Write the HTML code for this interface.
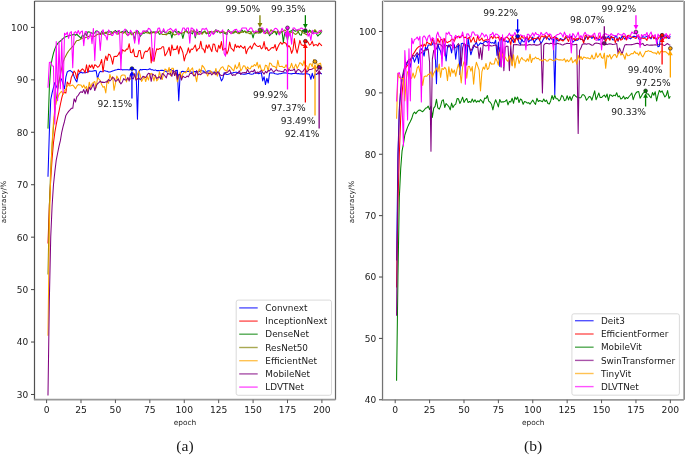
<!DOCTYPE html>
<html><head><meta charset="utf-8"><title>accuracy curves</title>
<style>html,body{margin:0;padding:0;background:#fff;width:685px;height:455px;overflow:hidden}svg{display:block}</style>
</head><body>
<svg width="685" height="455" viewBox="0 0 685 455" font-family="'DejaVu Sans', 'Liberation Sans', sans-serif" fill="#1a1a1a"><defs><clipPath id="aclip"><rect x="34.5" y="1.5" width="301.0" height="398.2"/></clipPath><clipPath id="bclip"><rect x="382.5" y="1.5" width="301.4" height="398.3"/></clipPath></defs><rect width="685" height="455" fill="#fff"/><g clip-path="url(#aclip)"><polyline points="47.98,176.85 49.35,132.28 50.73,99.77 52.11,92.95 53.48,87.71 54.86,82.46 56.24,86.13 57.61,88.75 58.99,80.89 60.37,77.74 61.74,79.84 63.12,84.04 64.49,88.75 65.87,77.22 67.25,71.97 68.62,70.93 70,70.4 71.38,71.45 72.75,72.5 74.13,76.69 75.51,79.84 76.88,81.94 78.26,74.6 79.64,73.02 81.01,71.97 82.39,73.03 83.77,72.66 85.14,72.8 86.52,72.52 87.9,71.65 89.27,71.09 90.65,71.27 92.02,71.35 93.4,70.9 94.78,70.63 96.15,70.68 97.53,78.79 98.91,73.55 100.28,71.34 101.66,71.69 103.04,71.42 104.41,70.62 105.79,71.11 107.17,71.34 108.54,71.94 109.92,72 111.3,71.6 112.67,71 114.05,70.54 115.43,69.97 116.8,69.76 118.18,69.16 119.55,69.41 120.93,69.26 122.31,69.87 123.68,69.69 125.06,69.71 126.44,69.76 127.81,69.75 129.19,69.96 130.57,69.09 131.94,68.57 133.32,69.35 134.7,69.61 136.07,69.88 137.45,119.17 138.83,71.97 140.2,69.41 141.58,69.87 142.96,69.49 144.33,69.5 145.71,69.43 147.08,69.65 148.46,69.46 149.84,68.8 151.21,69.65 152.59,69.84 153.97,70.38 155.34,69.89 156.72,70.63 158.1,70.4 159.47,70.87 160.85,70.35 162.23,70.39 163.6,70.57 164.98,70.93 166.36,71.93 167.73,71.32 169.11,70.71 170.49,69.55 171.86,70.34 173.24,71.15 174.61,71.68 175.99,70.51 177.37,70.2 178.74,100.82 180.12,74.6 181.5,71.51 182.87,71.37 184.25,71.8 185.63,71.67 187,71.51 188.38,71.29 189.76,71.54 191.13,72.14 192.51,72.3 193.89,71.8 195.26,71.42 196.64,71.79 198.02,71.77 199.39,71.53 200.77,70.26 202.14,70.74 203.52,71.12 204.9,72.44 206.27,72 207.65,70.92 209.03,70.71 210.4,71.45 211.78,72.19 213.16,72.21 214.53,72.09 215.91,72.46 217.29,72.11 218.66,71.63 220.04,76.69 221.42,80.89 222.79,78.79 224.17,72.72 225.54,74.1 226.92,74.47 228.3,74.31 229.67,73.75 231.05,73.01 232.43,73.11 233.8,72.42 235.18,72.34 236.56,72.17 237.93,72.69 239.31,73.25 240.69,73.89 242.06,74.03 243.44,74.19 244.82,74.12 246.19,73.98 247.57,73.49 248.95,73.41 250.32,74.08 251.7,74.2 253.08,74 254.45,72.91 255.83,72.68 257.2,73 258.58,73.66 259.96,73.14 261.33,72.64 262.71,80.89 264.09,76.69 265.46,84.56 266.84,78.27 268.22,82.99 269.59,72.9 270.97,72.84 272.35,72.94 273.72,73.08 275.1,73.83 276.48,73.97 277.85,74.3 279.23,73.72 280.61,73.83 281.98,73.34 283.36,73.09 284.73,72.81 286.11,72.93 287.49,73.19 288.86,73.47 290.24,73.65 291.62,73.87 292.99,73.57 294.37,73.51 295.75,73.12 297.12,73.75 298.5,73.43 299.88,73.92 301.25,73.71 302.63,74.11 304.01,74.04 305.38,73.67 306.76,73.81 308.14,74 309.51,74.42 310.89,79.32 312.26,73.34 313.64,78.27 315.02,73.93 316.39,74.52 317.77,73.45 319.15,74.01 320.52,73.27 321.9,73.93" fill="none" stroke="#0000ff" stroke-width="1.05" stroke-linejoin="round"/><polyline points="47.98,243.45 49.35,205.7 50.73,179.48 52.11,158.5 53.48,142.77 54.86,132.28 56.24,124.41 57.61,117.6 58.99,111.3 60.37,104.49 61.74,98.19 63.12,92.95 64.49,92.43 65.87,92.95 67.25,81.94 68.62,84.04 70,84.04 71.38,77.22 72.75,74.6 74.13,70.93 75.51,73.02 76.88,78.79 78.26,69.88 79.64,71.97 81.01,70.4 82.39,68.83 83.77,70.11 85.14,72.73 86.52,64.77 87.9,72.62 89.27,65.11 90.65,67.46 92.02,64.81 93.4,68.74 94.78,64.79 96.15,65.53 97.53,67.25 98.91,66.43 100.28,63.9 101.66,59.51 103.04,71.97 104.41,61.69 105.79,56.08 107.17,60.57 108.54,54.11 109.92,54.77 111.3,58.11 112.67,64.23 114.05,56.42 115.43,56.39 116.8,56.45 118.18,54.75 119.55,52.03 120.93,58.49 122.31,49.64 123.68,50.77 125.06,51.28 126.44,49.13 127.81,49.18 129.19,43.67 130.57,52.57 131.94,52.8 133.32,49.11 134.7,56.33 136.07,56.62 137.45,56.61 138.83,50.52 140.2,50.59 141.58,58.61 142.96,58.04 144.33,52.53 145.71,51.06 147.08,51.69 148.46,49.71 149.84,47.25 151.21,63.06 152.59,48.42 153.97,61.49 155.34,54.08 156.72,48.81 158.1,49.46 159.47,48.58 160.85,48.69 162.23,46.69 163.6,46.71 164.98,55.84 166.36,53.77 167.73,50.89 169.11,47.29 170.49,55.69 171.86,44.93 173.24,49.99 174.61,49.29 175.99,49.57 177.37,45.72 178.74,53.86 180.12,46.29 181.5,48.75 182.87,52.45 184.25,60.96 185.63,55.39 187,53.15 188.38,47.84 189.76,52.85 191.13,49.06 192.51,49.54 193.89,47.54 195.26,44.96 196.64,51.1 198.02,48.97 199.39,48.13 200.77,41.19 202.14,48.7 203.52,49.05 204.9,52.74 206.27,44.96 207.65,48.36 209.03,44.62 210.4,48.43 211.78,51.59 213.16,43.95 214.53,44.21 215.91,50.46 217.29,52.02 218.66,45.27 220.04,48.47 221.42,41.59 222.79,50.13 224.17,49.08 225.54,48.24 226.92,54.05 228.3,50.56 229.67,42.04 231.05,48.03 232.43,49.3 233.8,51.24 235.18,44.31 236.56,47.51 237.93,45.81 239.31,47.6 240.69,45.64 242.06,47.05 243.44,48.34 244.82,46.2 246.19,53.78 247.57,49.6 248.95,47.71 250.32,45.97 251.7,49 253.08,45.6 254.45,42.98 255.83,45.12 257.2,46.18 258.58,46.56 259.96,45.66 261.33,48.87 262.71,47.59 264.09,41.6 265.46,49.19 266.84,47.42 268.22,50.59 269.59,50.04 270.97,48.31 272.35,47.41 273.72,47.97 275.1,44.56 276.48,50.6 277.85,47.2 279.23,44.19 280.61,42.29 281.98,44.3 283.36,42.64 284.73,42.63 286.11,43.51 287.49,47.46 288.86,45.58 290.24,47.76 291.62,53.36 292.99,49.72 294.37,38.59 295.75,48.17 297.12,53.12 298.5,46.83 299.88,40.39 301.25,44.66 302.63,45.23 304.01,45.82 305.38,41.19 306.76,41.26 308.14,42.21 309.51,45.13 310.89,44.1 312.26,41.33 313.64,45.95 315.02,44.69 316.39,44.65 317.77,45.98 319.15,43.08 320.52,44.33 321.9,45.95" fill="none" stroke="#ff0000" stroke-width="1.05" stroke-linejoin="round"/><polyline points="47.98,128.61 49.35,87.71 50.73,66.73 52.11,58.86 53.48,53.1 54.86,48.9 56.24,45.75 57.61,43.66 58.99,42.08 60.37,41.03 61.74,39.99 63.12,38.41 64.49,37.36 65.87,36.84 67.25,36.31 68.62,35.79 70,35.27 71.38,35.27 72.75,34.74 74.13,34.22 75.51,35.27 76.88,34.22 78.26,35.79 79.64,36.84 81.01,38.41 82.39,35.33 83.77,36.39 85.14,33.01 86.52,35.45 87.9,31.85 89.27,32.06 90.65,32.45 92.02,33.18 93.4,33.33 94.78,32.92 96.15,30.9 97.53,31.1 98.91,32.45 100.28,34.52 101.66,31.34 103.04,34.37 104.41,32.9 105.79,33.15 107.17,31.76 108.54,32.14 109.92,31.69 111.3,31.69 112.67,33.25 114.05,31.55 115.43,30.51 116.8,32.03 118.18,31.24 119.55,32.85 120.93,32.37 122.31,31.35 123.68,32.28 125.06,31.85 126.44,30.14 127.81,32.3 129.19,32.89 130.57,32.74 131.94,33.07 133.32,33.37 134.7,40.51 136.07,32.06 137.45,30.54 138.83,32.29 140.2,36.4 141.58,34.43 142.96,33.25 144.33,33.31 145.71,32.43 147.08,30.6 148.46,32.51 149.84,33.37 151.21,31.41 152.59,32.76 153.97,31.75 155.34,32.62 156.72,31.97 158.1,31.92 159.47,34.34 160.85,33.82 162.23,31.44 163.6,30.93 164.98,32.47 166.36,33.02 167.73,33.26 169.11,33.77 170.49,32.45 171.86,37.89 173.24,31.83 174.61,30.51 175.99,32.51 177.37,32 178.74,31.37 180.12,33.62 181.5,32.61 182.87,38.41 184.25,32.84 185.63,30 187,31.32 188.38,33.54 189.76,32.41 191.13,32.82 192.51,33.85 193.89,29.69 195.26,37.89 196.64,31.52 198.02,32.83 199.39,31.44 200.77,31.85 202.14,32.51 203.52,32.04 204.9,30.94 206.27,33.86 207.65,32.97 209.03,33.7 210.4,31.43 211.78,32.44 213.16,33.56 214.53,33.02 215.91,29.65 217.29,32.3 218.66,30.84 220.04,33.01 221.42,32.33 222.79,32.77 224.17,33.03 225.54,33.79 226.92,34.51 228.3,29.5 229.67,32.47 231.05,32.07 232.43,32.01 233.8,33.18 235.18,30.75 236.56,32.29 237.93,31.46 239.31,33.39 240.69,31.72 242.06,30.11 243.44,32.13 244.82,30.88 246.19,32.93 247.57,30.74 248.95,31.57 250.32,31.86 251.7,33.15 253.08,37.89 254.45,32.25 255.83,32.61 257.2,31.77 258.58,31.3 259.96,33.22 261.33,32.02 262.71,29.5 264.09,30.87 265.46,31.92 266.84,29.5 268.22,32.26 269.59,35.73 270.97,33.98 272.35,33.49 273.72,31.57 275.1,31.33 276.48,34.77 277.85,30.82 279.23,33.93 280.61,32.41 281.98,31.3 283.36,42.08 284.73,32.66 286.11,32.69 287.49,40.51 288.86,32.49 290.24,31.17 291.62,30.72 292.99,29.5 294.37,30.75 295.75,31.29 297.12,29.93 298.5,32.22 299.88,34.79 301.25,35.27 302.63,30.34 304.01,31.26 305.38,30.81 306.76,32.3 308.14,32.28 309.51,30.14 310.89,31.23 312.26,33.21 313.64,32.86 315.02,30.12 316.39,33.68 317.77,36.08 319.15,34.53 320.52,33.85 321.9,31.09" fill="none" stroke="#008000" stroke-width="1.05" stroke-linejoin="round"/><polyline points="47.98,274.39 49.35,205.7 50.73,168.99 52.11,145.39 53.48,127.04 54.86,111.3 56.24,99.24 57.61,90.33 58.99,80.89 60.37,74.6 61.74,67.78 63.12,62.01 64.49,58.34 65.87,55.72 67.25,53.1 68.62,51 70,49.42 71.38,47.85 72.75,46.28 74.13,44.71 75.51,42.2 76.88,40.52 78.26,40.45 79.64,39.77 81.01,38.91 82.39,38.38 83.77,37.85 85.14,37.82 86.52,37.22 87.9,36.39 89.27,36.4 90.65,35.62 92.02,36.51 93.4,36.52 94.78,36.45 96.15,35.24 97.53,34.31 98.91,34.04 100.28,34.57 101.66,33.71 103.04,33.08 104.41,33.18 105.79,32.12 107.17,34.06 108.54,34.46 109.92,34.45 111.3,34.34 112.67,32.25 114.05,31.88 115.43,32.28 116.8,33.78 118.18,34.12 119.55,32.65 120.93,32.14 122.31,32.93 123.68,33.12 125.06,32.24 126.44,34.27 127.81,35.45 129.19,33.52 130.57,33.67 131.94,34.98 133.32,33.35 134.7,32.17 136.07,32.82 137.45,32.92 138.83,33.27 140.2,33.59 141.58,33.39 142.96,32.74 144.33,31.3 145.71,31.92 147.08,33.09 148.46,32.84 149.84,33.77 151.21,33.67 152.59,32.02 153.97,32.68 155.34,32.94 156.72,32.89 158.1,32.25 159.47,30.74 160.85,32.04 162.23,34.54 163.6,34.55 164.98,34.3 166.36,34.98 167.73,33.72 169.11,31.51 170.49,31.33 171.86,32.71 173.24,34.25 174.61,34.92 175.99,34.52 177.37,33.48 178.74,32.78 180.12,33.21 181.5,32.86 182.87,33 184.25,32.22 185.63,31.34 187,32.14 188.38,32.76 189.76,32.09 191.13,30.72 192.51,31.14 193.89,31.07 195.26,31.59 196.64,33.46 198.02,34.32 199.39,33.06 200.77,32.92 202.14,34.3 203.52,32.33 204.9,31.87 206.27,33.25 207.65,32.24 209.03,31.71 210.4,31.81 211.78,31.91 213.16,32.16 214.53,30.96 215.91,31.3 217.29,30.91 218.66,31.2 220.04,32.66 221.42,32.14 222.79,31.46 224.17,31.82 225.54,32.86 226.92,32.46 228.3,30.88 229.67,31.35 231.05,33.53 232.43,33.31 233.8,31.71 235.18,32.06 236.56,32.37 237.93,33.39 239.31,33.7 240.69,32.37 242.06,32.11 243.44,31.96 244.82,31.37 246.19,32.33 247.57,32.66 248.95,33.19 250.32,34.03 251.7,31.88 253.08,30.91 254.45,33.03 255.83,33.27 257.2,32.43 258.58,33.26 259.96,30.02 261.33,31.93 262.71,31.38 264.09,32.58 265.46,33.68 266.84,32.43 268.22,33.53 269.59,32.48 270.97,29.76 272.35,30.94 273.72,32.35 275.1,32.06 276.48,31.97 277.85,32.48 279.23,32.02 280.61,32.31 281.98,31.73 283.36,30.88 284.73,29.99 286.11,31.18 287.49,33.51 288.86,33.18 290.24,33.2 291.62,31.9 292.99,32.32 294.37,33.75 295.75,34.41 297.12,33.28 298.5,30.89 299.88,29.99 301.25,30.91 302.63,32.77 304.01,33.25 305.38,33.98 306.76,34.85 308.14,32.22 309.51,31.36 310.89,32.21 312.26,31.93 313.64,30.91 315.02,29.76 316.39,31.32 317.77,32.78 319.15,32.83 320.52,31.73 321.9,29.91" fill="none" stroke="#808000" stroke-width="1.05" stroke-linejoin="round"/><polyline points="47.98,335.75 49.35,226.67 50.73,174.23 52.11,142.77 53.48,121.79 54.86,108.68 56.24,101.86 57.61,98.19 58.99,94.52 60.37,92.43 61.74,91.38 63.12,94.52 64.49,90.85 65.87,88.75 67.25,86.13 68.62,84.56 70,86.13 71.38,85.61 72.75,85.08 74.13,86.66 75.51,88.75 76.88,86.13 78.26,84.56 79.64,85.08 81.01,85.08 82.39,87.5 83.77,85.05 85.14,88.5 86.52,86.35 87.9,91.37 89.27,82.17 90.65,87.68 92.02,83.54 93.4,82.4 94.78,81.54 96.15,88.02 97.53,77.7 98.91,79.03 100.28,80.62 101.66,84.59 103.04,87.23 104.41,86.59 105.79,92.95 107.17,80.21 108.54,83.36 109.92,74.41 111.3,78.93 112.67,76.53 114.05,90.33 115.43,83.42 116.8,75.91 118.18,78.43 119.55,82.51 120.93,76.23 122.31,75.01 123.68,74.99 125.06,75.29 126.44,81.94 127.81,78.13 129.19,79.31 130.57,79.12 131.94,76.16 133.32,72.85 134.7,74.1 136.07,79.78 137.45,74.29 138.83,70.84 140.2,74.99 141.58,81.5 142.96,79.07 144.33,76.54 145.71,81.53 147.08,76.04 148.46,80.07 149.84,74.61 151.21,73.3 152.59,75.63 153.97,80.96 155.34,74.72 156.72,80.89 158.1,79.2 159.47,71.67 160.85,77.36 162.23,79.52 163.6,73.46 164.98,68.97 166.36,69.86 167.73,71.62 169.11,67.4 170.49,75.69 171.86,68.21 173.24,68.21 174.61,75.54 175.99,73.54 177.37,81.94 178.74,77.23 180.12,72.14 181.5,77.74 182.87,73.71 184.25,72.37 185.63,72.88 187,70.64 188.38,67.58 189.76,72.28 191.13,69.51 192.51,67.92 193.89,74.59 195.26,75.3 196.64,81.65 198.02,72.19 199.39,68.94 200.77,72.82 202.14,65.3 203.52,66.87 204.9,69.33 206.27,72.63 207.65,76.12 209.03,72.5 210.4,70.91 211.78,72.25 213.16,73.45 214.53,73.98 215.91,68.42 217.29,76.15 218.66,71.89 220.04,69.54 221.42,67.36 222.79,66.74 224.17,69.41 225.54,70.53 226.92,71.24 228.3,65.36 229.67,66.42 231.05,67.62 232.43,69.63 233.8,70.85 235.18,64.81 236.56,68.73 237.93,67.19 239.31,62.45 240.69,71.04 242.06,68.91 243.44,65.83 244.82,65.98 246.19,69.38 247.57,66.9 248.95,68.7 250.32,68.84 251.7,66.01 253.08,66.58 254.45,64.5 255.83,65.94 257.2,62.27 258.58,68.13 259.96,64.82 261.33,69.82 262.71,70.39 264.09,70.34 265.46,65.16 266.84,65.76 268.22,71.08 269.59,62.96 270.97,63.59 272.35,66.09 273.72,66.38 275.1,66.72 276.48,68.56 277.85,60.36 279.23,66.49 280.61,66.48 281.98,66.22 283.36,67.46 284.73,67.5 286.11,64.7 287.49,68.35 288.86,68.15 290.24,67.7 291.62,63.28 292.99,68.22 294.37,67.39 295.75,64.16 297.12,68.46 298.5,65.86 299.88,62.65 301.25,63.43 302.63,65.66 304.01,60.66 305.38,65.79 306.76,65.86 308.14,70.1 309.51,64.12 310.89,63.73 312.26,66.69 313.64,59.49 315.02,61.54 316.39,61.62 317.77,66.95 319.15,63.52 320.52,63.15 321.9,69.78" fill="none" stroke="#ffa500" stroke-width="1.05" stroke-linejoin="round"/><polyline points="47.98,395.53 49.35,300.09 50.73,237.16 52.11,205.7 53.48,184.72 54.86,171.61 56.24,160.07 57.61,153.26 58.99,146.44 60.37,140.67 61.74,132.28 63.12,126.33 64.49,121.49 65.87,115.42 67.25,113.25 68.62,111.36 70,109.95 71.38,108.32 72.75,108.3 74.13,98.74 75.51,102.07 76.88,96.55 78.26,95.32 79.64,92.9 81.01,91.67 82.39,92.53 83.77,89.56 85.14,93.77 86.52,89.04 87.9,93.88 89.27,86.98 90.65,89.68 92.02,86.97 93.4,83.73 94.78,90.57 96.15,86.05 97.53,83.75 98.91,82.63 100.28,81.23 101.66,82.37 103.04,82.13 104.41,82.57 105.79,81.86 107.17,81.88 108.54,79.57 109.92,80.94 111.3,79.49 112.67,77.4 114.05,78.24 115.43,81.32 116.8,80.72 118.18,78.87 119.55,81.62 120.93,83.92 122.31,82.01 123.68,78.57 125.06,79.95 126.44,80.06 127.81,77.52 129.19,81.06 130.57,73.87 131.94,78.34 133.32,78.9 134.7,73.85 136.07,80.31 137.45,78.97 138.83,78.01 140.2,79.74 141.58,78.34 142.96,76.31 144.33,77.08 145.71,77.44 147.08,75.17 148.46,73.18 149.84,73.76 151.21,81.34 152.59,73.97 153.97,75.12 155.34,75.8 156.72,78.62 158.1,77.4 159.47,76.8 160.85,79.18 162.23,73.57 163.6,74.2 164.98,75.99 166.36,77.86 167.73,72.95 169.11,74.33 170.49,73.34 171.86,76.36 173.24,70.35 174.61,75.57 175.99,71.08 177.37,79.29 178.74,74.34 180.12,74.72 181.5,80.08 182.87,76.05 184.25,77.17 185.63,77.49 187,76.07 188.38,76.89 189.76,73.7 191.13,73.36 192.51,73.72 193.89,75.97 195.26,75.19 196.64,70.6 198.02,74.79 199.39,74.05 200.77,74.74 202.14,73.22 203.52,72.7 204.9,72.77 206.27,73.2 207.65,72.77 209.03,73.93 210.4,72.79 211.78,74.84 213.16,73.36 214.53,72.31 215.91,74.72 217.29,72.32 218.66,72.87 220.04,74.84 221.42,75.41 222.79,75.29 224.17,74.45 225.54,72.6 226.92,72.65 228.3,71.31 229.67,69.89 231.05,73.44 232.43,75.43 233.8,74.66 235.18,75.32 236.56,73.51 237.93,73.26 239.31,70.83 240.69,74.42 242.06,72.72 243.44,72.68 244.82,72.46 246.19,72.99 247.57,69.42 248.95,72.38 250.32,72.03 251.7,71.1 253.08,71.69 254.45,69.6 255.83,73.45 257.2,72.08 258.58,72.44 259.96,71.82 261.33,70.49 262.71,72.41 264.09,74.13 265.46,71.42 266.84,72.83 268.22,70.6 269.59,71.05 270.97,68.55 272.35,70.54 273.72,72.28 275.1,70.66 276.48,69.69 277.85,70.93 279.23,71.02 280.61,71.28 281.98,71.41 283.36,72.03 284.73,69.19 286.11,70.2 287.49,72.54 288.86,69.2 290.24,70.53 291.62,70.21 292.99,70.25 294.37,68.84 295.75,73.27 297.12,70.32 298.5,69.51 299.88,70.36 301.25,72.3 302.63,71.75 304.01,69.75 305.38,68.11 306.76,72.46 308.14,70.64 309.51,69.4 310.89,69.44 312.26,68.98 313.64,68.12 315.02,68.57 316.39,71.46 317.77,69.87 319.15,67.2 320.52,69.38 321.9,67.33" fill="none" stroke="#800080" stroke-width="1.05" stroke-linejoin="round"/><polyline points="47.98,87.71 49.35,62.53 50.73,62.01 52.11,65.68 53.48,66.21 54.86,123.89 56.24,41.56 57.61,100.82 58.99,42.08 60.37,88.75 61.74,38.94 63.12,92.95 64.49,33.17 65.87,34.74 67.25,32.12 68.62,38.41 70,32.64 71.38,31.6 72.75,67.78 74.13,32.64 75.51,31.6 76.88,33.69 78.26,30.55 79.64,34.15 81.01,31.83 82.39,31.08 83.77,45.75 85.14,31.8 86.52,31.59 87.9,39.2 89.27,37.53 90.65,32.63 92.02,43.66 93.4,28.41 94.78,60.44 96.15,31.7 97.53,31.65 98.91,31.82 100.28,50.47 101.66,32.58 103.04,29.74 104.41,35.06 105.79,35.99 107.17,39.99 108.54,29.93 109.92,31.74 111.3,35.24 112.67,35.48 114.05,32 115.43,31.82 116.8,34.25 118.18,30.54 119.55,30.58 120.93,69.88 122.31,33.07 123.68,31.04 125.06,28.94 126.44,30.94 127.81,35.76 129.19,34.36 130.57,30.25 131.94,32.77 133.32,34.86 134.7,43.13 136.07,30.21 137.45,30.62 138.83,44.18 140.2,33.16 141.58,34.4 142.96,30.77 144.33,31.12 145.71,30.98 147.08,31.35 148.46,28.24 149.84,29.02 151.21,31.42 152.59,60.96 153.97,56.24 155.34,31.5 156.72,32.49 158.1,28.24 159.47,27.92 160.85,33.43 162.23,32.4 163.6,28.63 164.98,31.95 166.36,32.28 167.73,30.02 169.11,29.49 170.49,28.29 171.86,29.83 173.24,31.9 174.61,30.19 175.99,28.85 177.37,33.3 178.74,34.89 180.12,33.02 181.5,32.49 182.87,27.92 184.25,27.92 185.63,30.92 187,27.92 188.38,27.92 189.76,43.13 191.13,27.92 192.51,28.31 193.89,30.37 195.26,36.31 196.64,29.04 198.02,31.57 199.39,34.5 200.77,33.44 202.14,28.68 203.52,28.89 204.9,29.35 206.27,28.16 207.65,30.86 209.03,36.51 210.4,35.52 211.78,31.15 213.16,34.52 214.53,33.05 215.91,30.13 217.29,30.39 218.66,31.46 220.04,31.77 221.42,31.53 222.79,29.92 224.17,53.62 225.54,56.24 226.92,33.22 228.3,30.49 229.67,31.26 231.05,33.88 232.43,31.54 233.8,30.39 235.18,29.42 236.56,29.28 237.93,32.15 239.31,31.01 240.69,30.79 242.06,27.92 243.44,27.92 244.82,28.06 246.19,27.92 247.57,31.1 248.95,29.93 250.32,27.92 251.7,27.92 253.08,31.66 254.45,32.49 255.83,30.76 257.2,31.96 258.58,31.45 259.96,31.11 261.33,27.92 262.71,27.92 264.09,33.65 265.46,32.04 266.84,28.45 268.22,30.52 269.59,34.06 270.97,33.56 272.35,31.1 273.72,30.07 275.1,28.29 276.48,28.53 277.85,30.06 279.23,34.98 280.61,32.49 281.98,28.32 283.36,30.73 284.73,32.53 286.11,36.84 287.49,27.82 288.86,36.33 290.24,33.19 291.62,44.18 292.99,27.92 294.37,27.92 295.75,29.76 297.12,30.4 298.5,29.3 299.88,28.91 301.25,27.92 302.63,28.51 304.01,30.53 305.38,28.34 306.76,30.06 308.14,36.32 309.51,33.33 310.89,40.51 312.26,30.3 313.64,33.95 315.02,32.63 316.39,33.55 317.77,33.21 319.15,31.05 320.52,30.2 321.9,32.18" fill="none" stroke="#ff00ff" stroke-width="1.05" stroke-linejoin="round"/></g><line x1="131.94" y1="98.5" x2="131.94" y2="74.37" stroke="#0000ff" stroke-width="1.3"/><polygon points="129.54,75.47 134.34,75.47 131.94,70.87" fill="#0000ff"/><circle cx="131.94" cy="68.57" r="1.85" fill="#0000ff" stroke="#222" stroke-width="0.7"/><text x="132.24" y="107" text-anchor="end" font-size="9.1">92.15%</text><line x1="259.96" y1="15.2" x2="259.96" y2="24.22" stroke="#808000" stroke-width="1.3"/><polygon points="257.56,23.12 262.36,23.12 259.96,27.72" fill="#808000"/><circle cx="259.96" cy="30.02" r="1.85" fill="#808000" stroke="#222" stroke-width="0.7"/><text x="260.26" y="12" text-anchor="end" font-size="9.1">99.50%</text><line x1="305.38" y1="15.2" x2="305.38" y2="25.01" stroke="#008000" stroke-width="1.3"/><polygon points="302.98,23.91 307.78,23.91 305.38,28.51" fill="#008000"/><circle cx="305.38" cy="30.81" r="1.85" fill="#008000" stroke="#222" stroke-width="0.7"/><text x="305.68" y="12" text-anchor="end" font-size="9.1">99.35%</text><line x1="287.49" y1="89.5" x2="287.49" y2="33.62" stroke="#ff00ff" stroke-width="1.3"/><polygon points="285.09,34.72 289.89,34.72 287.49,30.12" fill="#ff00ff"/><circle cx="287.49" cy="27.82" r="1.85" fill="#ff00ff" stroke="#222" stroke-width="0.7"/><text x="287.79" y="98" text-anchor="end" font-size="9.1">99.92%</text><line x1="305.38" y1="102.5" x2="305.38" y2="46.99" stroke="#ff0000" stroke-width="1.3"/><polygon points="302.98,48.09 307.78,48.09 305.38,43.49" fill="#ff0000"/><circle cx="305.38" cy="41.19" r="1.85" fill="#ff0000" stroke="#222" stroke-width="0.7"/><text x="305.68" y="111" text-anchor="end" font-size="9.1">97.37%</text><line x1="315.02" y1="115.5" x2="315.02" y2="67.34" stroke="#ffa500" stroke-width="1.3"/><polygon points="312.62,68.44 317.42,68.44 315.02,63.84" fill="#ffa500"/><circle cx="315.02" cy="61.54" r="1.85" fill="#ffa500" stroke="#222" stroke-width="0.7"/><text x="315.32" y="124" text-anchor="end" font-size="9.1">93.49%</text><line x1="319.15" y1="128.5" x2="319.15" y2="73" stroke="#800080" stroke-width="1.3"/><polygon points="316.75,74.1 321.55,74.1 319.15,69.5" fill="#800080"/><circle cx="319.15" cy="67.2" r="1.85" fill="#800080" stroke="#222" stroke-width="0.7"/><text x="319.45" y="137" text-anchor="end" font-size="9.1">92.41%</text><line x1="34.5" y1="0.5" x2="335.5" y2="0.5" stroke="#c6c6c6" stroke-width="1"/><line x1="34.5" y1="1.5" x2="335.5" y2="1.5" stroke="#8a8a8a" stroke-width="1"/><line x1="34.5" y1="1" x2="34.5" y2="399.7" stroke="#505050" stroke-width="1.2"/><line x1="335.5" y1="1" x2="335.5" y2="399.7" stroke="#666" stroke-width="1.2"/><line x1="336.6" y1="1" x2="336.6" y2="399.7" stroke="#eeeeee" stroke-width="1"/><line x1="33.9" y1="399.7" x2="335.5" y2="399.7" stroke="#999" stroke-width="1.8"/><line x1="31" y1="394.48" x2="34.5" y2="394.48" stroke="#444" stroke-width="1.0"/><text x="28.2" y="397.93" text-anchor="end" font-size="9.0">30</text><line x1="31" y1="342.04" x2="34.5" y2="342.04" stroke="#444" stroke-width="1.0"/><text x="28.2" y="345.49" text-anchor="end" font-size="9.0">40</text><line x1="31" y1="289.6" x2="34.5" y2="289.6" stroke="#444" stroke-width="1.0"/><text x="28.2" y="293.05" text-anchor="end" font-size="9.0">50</text><line x1="31" y1="237.16" x2="34.5" y2="237.16" stroke="#444" stroke-width="1.0"/><text x="28.2" y="240.61" text-anchor="end" font-size="9.0">60</text><line x1="31" y1="184.72" x2="34.5" y2="184.72" stroke="#444" stroke-width="1.0"/><text x="28.2" y="188.17" text-anchor="end" font-size="9.0">70</text><line x1="31" y1="132.28" x2="34.5" y2="132.28" stroke="#444" stroke-width="1.0"/><text x="28.2" y="135.73" text-anchor="end" font-size="9.0">80</text><line x1="31" y1="79.84" x2="34.5" y2="79.84" stroke="#444" stroke-width="1.0"/><text x="28.2" y="83.29" text-anchor="end" font-size="9.0">90</text><line x1="31" y1="27.4" x2="34.5" y2="27.4" stroke="#444" stroke-width="1.0"/><text x="28.2" y="30.85" text-anchor="end" font-size="9.0">100</text><line x1="46.6" y1="399.7" x2="46.6" y2="403.1" stroke="#555" stroke-width="1.0"/><text x="46.6" y="413.3" text-anchor="middle" font-size="9.2">0</text><line x1="81.01" y1="399.7" x2="81.01" y2="403.1" stroke="#555" stroke-width="1.0"/><text x="81.01" y="413.3" text-anchor="middle" font-size="9.2">25</text><line x1="115.43" y1="399.7" x2="115.43" y2="403.1" stroke="#555" stroke-width="1.0"/><text x="115.43" y="413.3" text-anchor="middle" font-size="9.2">50</text><line x1="149.84" y1="399.7" x2="149.84" y2="403.1" stroke="#555" stroke-width="1.0"/><text x="149.84" y="413.3" text-anchor="middle" font-size="9.2">75</text><line x1="184.25" y1="399.7" x2="184.25" y2="403.1" stroke="#555" stroke-width="1.0"/><text x="184.25" y="413.3" text-anchor="middle" font-size="9.2">100</text><line x1="218.66" y1="399.7" x2="218.66" y2="403.1" stroke="#555" stroke-width="1.0"/><text x="218.66" y="413.3" text-anchor="middle" font-size="9.2">125</text><line x1="253.08" y1="399.7" x2="253.08" y2="403.1" stroke="#555" stroke-width="1.0"/><text x="253.08" y="413.3" text-anchor="middle" font-size="9.2">150</text><line x1="287.49" y1="399.7" x2="287.49" y2="403.1" stroke="#555" stroke-width="1.0"/><text x="287.49" y="413.3" text-anchor="middle" font-size="9.2">175</text><line x1="321.9" y1="399.7" x2="321.9" y2="403.1" stroke="#555" stroke-width="1.0"/><text x="321.9" y="413.3" text-anchor="middle" font-size="9.2">200</text><text x="185" y="424.6" text-anchor="middle" font-size="7.4">epoch</text><text transform="translate(6.4,202) rotate(-90)" text-anchor="middle" font-size="7.3">accuracy/%</text><text x="185" y="451.2" text-anchor="middle" font-size="15.6" font-family="'Liberation Serif', 'DejaVu Serif', serif">(a)</text><rect x="236.2" y="300.1" width="95.3" height="95.2" rx="2" ry="2" fill="#fff" fill-opacity="0.8" stroke="#d0d0d0" stroke-width="0.8"/><line x1="239.2" y1="307.9" x2="257.7" y2="307.9" stroke="#0000ff" stroke-width="1.4" stroke-opacity="0.68"/><text x="265.3" y="311.1" font-size="8.9">Convnext</text><line x1="239.2" y1="321.1" x2="257.7" y2="321.1" stroke="#ff0000" stroke-width="1.4" stroke-opacity="0.68"/><text x="265.3" y="324.3" font-size="8.9">InceptionNext</text><line x1="239.2" y1="334.2" x2="257.7" y2="334.2" stroke="#008000" stroke-width="1.4" stroke-opacity="0.68"/><text x="265.3" y="337.4" font-size="8.9">DenseNet</text><line x1="239.2" y1="347.5" x2="257.7" y2="347.5" stroke="#808000" stroke-width="1.4" stroke-opacity="0.68"/><text x="265.3" y="350.7" font-size="8.9">ResNet50</text><line x1="239.2" y1="360.7" x2="257.7" y2="360.7" stroke="#ffa500" stroke-width="1.4" stroke-opacity="0.68"/><text x="265.3" y="363.9" font-size="8.9">EfficientNet</text><line x1="239.2" y1="373.9" x2="257.7" y2="373.9" stroke="#800080" stroke-width="1.4" stroke-opacity="0.68"/><text x="265.3" y="377.1" font-size="8.9">MobileNet</text><line x1="239.2" y1="387.1" x2="257.7" y2="387.1" stroke="#ff00ff" stroke-width="1.4" stroke-opacity="0.68"/><text x="265.3" y="390.3" font-size="8.9">LDVTNet</text><g clip-path="url(#bclip)"><polyline points="396.58,260.45 397.95,154.26 399.33,108.22 400.7,89.81 402.08,78.76 403.45,74.47 404.83,67.71 406.21,65.26 407.58,62.19 408.96,60.35 410.33,67.1 411.71,58.51 413.08,57.28 414.46,62.19 415.84,58.51 417.21,54.21 418.59,63.42 419.96,49.91 421.34,48.69 422.71,51.14 424.09,56.05 425.47,46.84 426.84,49.91 428.22,45 429.59,45 430.97,44.98 432.35,44.71 433.72,40.33 435.1,50.82 436.47,83.67 437.85,43.69 439.22,48.6 440.6,51.19 441.98,58.51 443.35,43.06 444.73,45.77 446.1,60.96 447.48,46.89 448.85,44.87 450.23,46.67 451.61,52.98 452.98,43 454.36,45.07 455.73,59.12 457.11,47.31 458.48,45.19 459.86,74.47 461.24,43.77 462.61,43.23 463.99,44.88 465.36,45.36 466.74,65.26 468.11,38.06 469.49,47.26 470.87,54.82 472.24,50.17 473.62,46.94 474.99,44.44 476.37,42.17 477.75,45.72 479.12,44.6 480.5,42.83 481.87,43.71 483.25,43.26 484.62,41.63 486,41.16 487.38,42.72 488.75,41.43 490.13,42.19 491.5,43.08 492.88,42.6 494.25,43.52 495.63,40.13 497.01,55.44 498.38,42.11 499.76,66.49 501.13,39.65 502.51,37.37 503.88,40.8 505.26,41.39 506.64,40.89 508.01,42.55 509.39,39.88 510.76,37.93 512.14,39.67 513.51,42.63 514.89,38.89 516.27,38.5 517.64,36.29 519.02,42.52 520.39,44.54 521.77,39.16 523.14,41.82 524.52,41.8 525.9,38.17 527.27,38.42 528.65,42.13 530.02,39.98 531.4,40.15 532.77,36.92 534.15,42.95 535.53,40.04 536.9,39.22 538.28,36.67 539.65,40.43 541.03,43.23 542.41,41.34 543.78,38.6 545.16,37.33 546.53,36.77 547.91,38.09 549.28,40.06 550.66,37.82 552.04,39.39 553.41,38.86 554.79,94.72 556.16,37.16 557.54,40.65 558.91,40.71 560.29,38.6 561.67,39.17 563.04,39.87 564.42,39.71 565.79,37.91 567.17,36.82 568.54,37.58 569.92,37.62 571.3,36.1 572.67,42.36 574.05,41.03 575.42,39.11 576.8,40.49 578.17,39.8 579.55,38.11 580.93,39.63 582.3,38.88 583.68,41.35 585.05,39.24 586.43,35.89 587.81,38.55 589.18,37.15 590.56,36.55 591.93,38.46 593.31,36.47 594.68,38.2 596.06,38.24 597.44,38.45 598.81,40.28 600.19,38.94 601.56,38.64 602.94,36.57 604.31,37.68 605.69,38.44 607.07,37.81 608.44,36 609.82,39.23 611.19,36.29 612.57,39.73 613.94,39.91 615.32,36.05 616.7,36.35 618.07,41.32 619.45,37.44 620.82,38.88 622.2,35.83 623.57,37.58 624.95,39.08 626.33,36.52 627.7,37.79 629.08,37.78 630.45,38.95 631.83,37.69 633.2,36.39 634.58,36.24 635.96,37.07 637.33,35.49 638.71,38.73 640.08,39.63 641.46,37.99 642.84,36.62 644.21,37.3 645.59,36.93 646.96,36.09 648.34,37.15 649.71,37.04 651.09,38.89 652.47,35.49 653.84,37.52 655.22,38.69 656.59,38.44 657.97,46.84 659.34,46.23 660.72,36.02 662.1,39.35 663.47,37.69 664.85,36.07 666.22,35.8 667.6,37.73 668.97,38.49 670.35,36.15" fill="none" stroke="#0000ff" stroke-width="1.05" stroke-linejoin="round"/><polyline points="396.58,287.45 397.95,203.36 399.33,154.26 400.7,117.43 402.08,92.88 403.45,79.38 404.83,69.56 406.21,67.1 407.58,65.26 408.96,63.42 410.33,60.35 411.71,57.28 413.08,54.21 414.46,52.37 415.84,49.91 417.21,48.07 418.59,46.84 419.96,46.23 421.34,45 422.71,47.42 424.09,44.12 425.47,46.33 426.84,41.83 428.22,43.16 429.59,43.58 430.97,45.11 432.35,38.32 433.72,42.79 435.1,43.76 436.47,43.93 437.85,38.45 439.22,42.6 440.6,39.77 441.98,39.25 443.35,45.36 444.73,38.55 446.1,41.73 447.48,42.69 448.85,41.61 450.23,41.13 451.61,39.23 452.98,39.17 454.36,41.26 455.73,37.48 457.11,36.85 458.48,36.1 459.86,37.9 461.24,36 462.61,35.18 463.99,37.54 465.36,37.14 466.74,38.41 468.11,38.29 469.49,37.01 470.87,42.23 472.24,39.66 473.62,37.3 474.99,42.08 476.37,41.73 477.75,35.7 479.12,40.41 480.5,39.84 481.87,38 483.25,41.1 484.62,40.22 486,39.81 487.38,39.87 488.75,39.77 490.13,37.96 491.5,36.28 492.88,38.67 494.25,35.44 495.63,38.1 497.01,37.64 498.38,36.9 499.76,40.8 501.13,37.55 502.51,37.77 503.88,40.98 505.26,37.59 506.64,37.28 508.01,37.97 509.39,39.85 510.76,44.86 512.14,35.85 513.51,38.72 514.89,42.68 516.27,36.93 517.64,40.01 519.02,37.49 520.39,39.41 521.77,35.66 523.14,38.06 524.52,37.99 525.9,37.43 527.27,36.58 528.65,40.07 530.02,35.94 531.4,37.86 532.77,39.96 534.15,38.33 535.53,38.81 536.9,38.1 538.28,37.6 539.65,40.34 541.03,36.34 542.41,36.08 543.78,37.27 545.16,35.18 546.53,39.23 547.91,36.52 549.28,35.18 550.66,38.16 552.04,38.05 553.41,37.56 554.79,36.5 556.16,38.98 557.54,38.16 558.91,40.94 560.29,39.52 561.67,40.24 563.04,40.97 564.42,38.76 565.79,36.24 567.17,38.74 568.54,41.42 569.92,36.86 571.3,37.2 572.67,39.92 574.05,38.21 575.42,40.59 576.8,38.53 578.17,39.15 579.55,37.31 580.93,39.2 582.3,39.16 583.68,43.16 585.05,35.72 586.43,35.33 587.81,39.54 589.18,36.21 590.56,37.01 591.93,36.33 593.31,35.75 594.68,39.29 596.06,37.18 597.44,38.9 598.81,38.15 600.19,35.59 601.56,37.89 602.94,38.89 604.31,35.18 605.69,41.67 607.07,38.34 608.44,38.17 609.82,40.25 611.19,36.47 612.57,37.52 613.94,37.63 615.32,42.55 616.7,38.61 618.07,40.63 619.45,37.59 620.82,40.13 622.2,39.53 623.57,36.12 624.95,36.19 626.33,40.02 627.7,35.45 629.08,35.18 630.45,37.08 631.83,37.08 633.2,37.31 634.58,37.89 635.96,38.57 637.33,35.81 638.71,36.21 640.08,37.83 641.46,38.32 642.84,38.3 644.21,38.56 645.59,38.7 646.96,40.37 648.34,35.59 649.71,38 651.09,37.49 652.47,35.18 653.84,38.77 655.22,36.31 656.59,40.14 657.97,39.06 659.34,36.61 660.72,37.5 662.1,35.18 663.47,39.46 664.85,37.05 666.22,38.3 667.6,35.34 668.97,37.72 670.35,38.21" fill="none" stroke="#ff0000" stroke-width="1.05" stroke-linejoin="round"/><polyline points="396.58,380.86 397.95,276.82 399.33,197.28 400.7,168.67 402.08,150.79 403.45,143.94 404.83,135.01 406.21,130.99 407.58,127.1 408.96,124.04 410.33,121.45 411.71,118.54 413.08,114.03 414.46,112.05 415.84,113.67 417.21,111.63 418.59,110.37 419.96,109.93 421.34,110.96 422.71,111.67 424.09,110.21 425.47,108.29 426.84,107.82 428.22,106.17 429.59,109.52 430.97,106.26 432.35,117.43 433.72,108.17 435.1,106.32 436.47,99.37 437.85,107.97 439.22,109.16 440.6,106.1 441.98,100.61 443.35,99.8 444.73,107.53 446.1,103.52 447.48,104.99 448.85,106.53 450.23,109.85 451.61,103.07 452.98,107.62 454.36,105.07 455.73,104.15 457.11,98.54 458.48,98.73 459.86,103.46 461.24,100.67 462.61,97.14 463.99,102.47 465.36,100.09 466.74,98.45 468.11,102.56 469.49,101.48 470.87,102.38 472.24,98.93 473.62,102.1 474.99,99.82 476.37,102.27 477.75,100.78 479.12,101.89 480.5,99.52 481.87,101.1 483.25,103.15 484.62,98.1 486,98.57 487.38,95.57 488.75,101.19 490.13,102.21 491.5,104.23 492.88,109.86 494.25,103.91 495.63,99.72 497.01,102.92 498.38,106.91 499.76,99.44 501.13,102.24 502.51,101.7 503.88,101.87 505.26,101.17 506.64,99.75 508.01,104.91 509.39,101.39 510.76,102.05 512.14,98.21 513.51,103.27 514.89,97.04 516.27,99.44 517.64,97.07 519.02,102.5 520.39,98.98 521.77,100.01 523.14,104.35 524.52,101.47 525.9,101.92 527.27,103.11 528.65,102.65 530.02,104.22 531.4,101.95 532.77,100.08 534.15,102.61 535.53,104.38 536.9,98.24 538.28,101.48 539.65,100.49 541.03,101.04 542.41,101.69 543.78,98.96 545.16,101.54 546.53,100.18 547.91,103.55 549.28,103.95 550.66,100.97 552.04,95.54 553.41,99.52 554.79,95.37 556.16,98.76 557.54,98.7 558.91,101.05 560.29,99.68 561.67,95.3 563.04,96.56 564.42,100.63 565.79,100.11 567.17,95.75 568.54,99.91 569.92,96.41 571.3,100.53 572.67,96.79 574.05,94.54 575.42,96 576.8,97.22 578.17,97.39 579.55,97.85 580.93,97.64 582.3,94.77 583.68,94.76 585.05,96.43 586.43,100.25 587.81,98.46 589.18,96.48 590.56,96.99 591.93,100.2 593.31,95.42 594.68,90.84 596.06,99.7 597.44,96.62 598.81,92.92 600.19,97.6 601.56,97.51 602.94,96.11 604.31,95.12 605.69,97.34 607.07,94.03 608.44,100.7 609.82,94.67 611.19,95.27 612.57,96.44 613.94,95.11 615.32,95.84 616.7,92.79 618.07,96.9 619.45,95.86 620.82,98.94 622.2,98.27 623.57,96.14 624.95,99.15 626.33,97.43 627.7,98.49 629.08,96.49 630.45,95 631.83,93.01 633.2,99.68 634.58,95.56 635.96,93.01 637.33,91.75 638.71,91.63 640.08,98.19 641.46,95.98 642.84,93.41 644.21,92.5 645.59,90.85 646.96,94.01 648.34,94.04 649.71,96.36 651.09,97.79 652.47,92.61 653.84,95.27 655.22,91.71 656.59,101.04 657.97,95.15 659.34,90.39 660.72,92.28 662.1,90.92 663.47,93.92 664.85,96.99 666.22,95.39 667.6,90.62 668.97,98.42 670.35,96.33" fill="none" stroke="#008000" stroke-width="1.05" stroke-linejoin="round"/><polyline points="396.58,315.69 397.95,160.4 399.33,111.29 400.7,89.81 402.08,77.53 403.45,71.4 404.83,66.49 406.21,63.42 407.58,61.61 408.96,59.3 410.33,59.85 411.71,56.96 413.08,55.33 414.46,56.34 415.84,54.44 417.21,52.6 418.59,54.85 419.96,54.1 421.34,52.86 422.71,51.33 424.09,50.78 425.47,49.62 426.84,49.86 428.22,48.96 429.59,62.19 430.97,151.19 432.35,59.12 433.72,50.35 435.1,50.83 436.47,48.59 437.85,44.92 439.22,43.97 440.6,44.62 441.98,46.13 443.35,48.07 444.73,47.41 446.1,45.51 447.48,45.7 448.85,47.22 450.23,44.79 451.61,45.36 452.98,47.09 454.36,47.54 455.73,47.7 457.11,45.28 458.48,43.67 459.86,46.02 461.24,65.87 462.61,47.83 463.99,43.22 465.36,44.55 466.74,46.05 468.11,45.24 469.49,47.85 470.87,50.75 472.24,48.46 473.62,45.02 474.99,46.57 476.37,47.43 477.75,46.63 479.12,58.51 480.5,47.82 481.87,59.73 483.25,44.05 484.62,45.55 486,46.07 487.38,45.39 488.75,45.4 490.13,45.62 491.5,45.9 492.88,45.68 494.25,45.16 495.63,44.92 497.01,46.27 498.38,59.12 499.76,47.38 501.13,67.1 502.51,44.11 503.88,70.78 505.26,47.08 506.64,46.19 508.01,46.16 509.39,70.78 510.76,45.42 512.14,65.26 513.51,44.62 514.89,44.82 516.27,44.47 517.64,44.65 519.02,44.96 520.39,45.18 521.77,44.82 523.14,45.11 524.52,44.77 525.9,45.04 527.27,45.33 528.65,44.74 530.02,44.59 531.4,44.97 532.77,44.69 534.15,44.57 535.53,45.11 536.9,45.12 538.28,45.02 539.65,44.42 541.03,42.98 542.41,92.88 543.78,45.13 545.16,43.58 546.53,43.33 547.91,43.58 549.28,44 550.66,43.32 552.04,43.46 553.41,44.14 554.79,44.17 556.16,44.04 557.54,43.26 558.91,43.82 560.29,44.07 561.67,44.67 563.04,44.97 564.42,44.13 565.79,43.77 567.17,43.22 568.54,43.43 569.92,43.52 571.3,43.7 572.67,44.82 574.05,44.83 575.42,44.52 576.8,44.19 578.17,133.39 579.55,50.53 580.93,48.07 582.3,44.2 583.68,43.89 585.05,43.69 586.43,44.3 587.81,43.84 589.18,43.76 590.56,44.5 591.93,45.2 593.31,44.99 594.68,43.38 596.06,42.98 597.44,43.16 598.81,43.46 600.19,43.96 601.56,44.34 602.94,44.16 604.31,43.35 605.69,44.35 607.07,44.6 608.44,43.93 609.82,43.72 611.19,44.03 612.57,44.48 613.94,44.32 615.32,43.91 616.7,43.42 618.07,53.6 619.45,48.07 620.82,51.14 622.2,54.21 623.57,48.69 624.95,44.93 626.33,44.52 627.7,44.77 629.08,44.78 630.45,44.79 631.83,44.64 633.2,44.31 634.58,43.89 635.96,43.49 637.33,43.25 638.71,43.6 640.08,44.74 641.46,43.96 642.84,43.39 644.21,45.52 645.59,45.45 646.96,44.44 648.34,45.1 649.71,45.33 651.09,45.02 652.47,45.14 653.84,45.08 655.22,44.83 656.59,45.03 657.97,44.79 659.34,44.59 660.72,44.11 662.1,44.07 663.47,45.2 664.85,45.42 666.22,44.29 667.6,43.58 668.97,44.68 670.35,45.15" fill="none" stroke="#800080" stroke-width="1.05" stroke-linejoin="round"/><polyline points="396.58,118.66 397.95,73.24 399.33,77.53 400.7,78.15 402.08,78.89 403.45,78.12 404.83,100.86 406.21,79.44 407.58,71.96 408.96,70 410.33,79.04 411.71,77.95 413.08,72.97 414.46,78.09 415.84,74.45 417.21,67.83 418.59,66.02 419.96,71.91 421.34,76.19 422.71,85.51 424.09,76.69 425.47,76.07 426.84,76.32 428.22,74.23 429.59,74.42 430.97,71.79 432.35,77.3 433.72,73.23 435.1,70.95 436.47,67.63 437.85,71.83 439.22,64 440.6,77.53 441.98,68.33 443.35,69.44 444.73,67.4 446.1,69.33 447.48,80.6 448.85,66.85 450.23,76.5 451.61,68.77 452.98,73.08 454.36,69.95 455.73,76.31 457.11,68.81 458.48,63.92 459.86,70.79 461.24,83.06 462.61,67.21 463.99,61.72 465.36,63.33 466.74,78.15 468.11,66.5 469.49,66.35 470.87,71.15 472.24,66.53 473.62,84.29 474.99,69.28 476.37,62.26 477.75,66.11 479.12,70.04 480.5,91.04 481.87,71.97 483.25,67.12 484.62,69.15 486,63.48 487.38,69.57 488.75,68.22 490.13,62.01 491.5,64.13 492.88,64.09 494.25,63.92 495.63,58.24 497.01,60.81 498.38,65.17 499.76,51.93 501.13,58.8 502.51,53.87 503.88,57.6 505.26,57.1 506.64,60.03 508.01,61.33 509.39,55.8 510.76,59.19 512.14,65.87 513.51,54.66 514.89,67.89 516.27,59.55 517.64,55.8 519.02,63.51 520.39,59.76 521.77,57.48 523.14,59.71 524.52,60 525.9,61.65 527.27,58.75 528.65,61.11 530.02,54.16 531.4,62.59 532.77,58.38 534.15,59.08 535.53,57.01 536.9,58.72 538.28,58.21 539.65,60.05 541.03,59.78 542.41,61.22 543.78,59.66 545.16,59.2 546.53,61.06 547.91,60.97 549.28,59.25 550.66,59.26 552.04,60.01 553.41,60.66 554.79,60.73 556.16,58.6 557.54,59.53 558.91,59.87 560.29,59.7 561.67,59.97 563.04,60.27 564.42,58.71 565.79,62.03 567.17,59.82 568.54,61.7 569.92,60.29 571.3,57.59 572.67,62.73 574.05,61.41 575.42,59.63 576.8,64.19 578.17,55.41 579.55,59.94 580.93,56.42 582.3,59.41 583.68,56.92 585.05,57.4 586.43,58.28 587.81,57.74 589.18,58.65 590.56,58.74 591.93,54.93 593.31,59.02 594.68,58.59 596.06,52.8 597.44,57.37 598.81,55.86 600.19,53.22 601.56,57.48 602.94,58.37 604.31,53.14 605.69,68.33 607.07,55.21 608.44,56.99 609.82,54.58 611.19,59.01 612.57,56.47 613.94,54.82 615.32,54.55 616.7,57.62 618.07,53.97 619.45,51.38 620.82,55.17 622.2,53.57 623.57,55.26 624.95,59.28 626.33,53.04 627.7,55.78 629.08,55.59 630.45,54.3 631.83,53.5 633.2,53.71 634.58,51.21 635.96,53.39 637.33,52.94 638.71,55.32 640.08,51.72 641.46,55.3 642.84,56.97 644.21,54.2 645.59,51.37 646.96,51.49 648.34,50.65 649.71,51.4 651.09,51.35 652.47,52.53 653.84,53.07 655.22,52.89 656.59,54.08 657.97,51.15 659.34,54.26 660.72,51.59 662.1,50.88 663.47,51.94 664.85,51.57 666.22,52.03 667.6,53.28 668.97,54.6 670.35,48.38" fill="none" stroke="#ffa500" stroke-width="1.05" stroke-linejoin="round"/><polyline points="396.58,101.47 397.95,73.24 399.33,72.62 400.7,78.15 402.08,105.16 403.45,145.67 404.83,50.53 406.21,74.47 407.58,119.89 408.96,48.69 410.33,100.86 411.71,38.25 413.08,43.78 414.46,39.48 415.84,38.87 417.21,37.02 418.59,40.09 419.96,36.41 421.34,102.09 422.71,37.64 424.09,35.8 425.47,37.64 426.84,41.32 428.22,36.41 429.59,35.18 430.97,41.32 432.35,37.57 433.72,38.73 435.1,59.12 436.47,35.62 437.85,32.04 439.22,36.86 440.6,37.17 441.98,66.49 443.35,38.3 444.73,56.05 446.1,32.73 447.48,34.25 448.85,31.99 450.23,35.37 451.61,35.81 452.98,49.91 454.36,37.45 455.73,35.33 457.11,38.27 458.48,36.74 459.86,36.24 461.24,37.16 462.61,31.99 463.99,38.82 465.36,84.29 466.74,34.07 468.11,33.85 469.49,36.05 470.87,37.08 472.24,31.99 473.62,31.99 474.99,35.14 476.37,34.98 477.75,34.9 479.12,38.08 480.5,36.32 481.87,33.06 483.25,34.37 484.62,37.07 486,34.6 487.38,36.48 488.75,50.53 490.13,34.49 491.5,34.42 492.88,32.37 494.25,37.16 495.63,33.91 497.01,34.22 498.38,35.42 499.76,36.85 501.13,66.49 502.51,34.74 503.88,66.49 505.26,37.69 506.64,36.97 508.01,35.7 509.39,33.17 510.76,35.65 512.14,34.93 513.51,35.81 514.89,32.34 516.27,36.53 517.64,36.27 519.02,36.16 520.39,34.81 521.77,35.43 523.14,36 524.52,35.76 525.9,49.91 527.27,34.35 528.65,34.32 530.02,36.59 531.4,35.07 532.77,32.85 534.15,36.17 535.53,32.51 536.9,34.46 538.28,34.4 539.65,36.72 541.03,32.38 542.41,34.83 543.78,34.85 545.16,33.61 546.53,32.29 547.91,35.07 549.28,33.9 550.66,34.26 552.04,37.52 553.41,49.91 554.79,37.34 556.16,35.42 557.54,34.54 558.91,34.26 560.29,32.8 561.67,34.1 563.04,37.08 564.42,32.1 565.79,35.19 567.17,35.71 568.54,37.33 569.92,34.04 571.3,52.98 572.67,33.42 574.05,35.12 575.42,37.76 576.8,35.41 578.17,32.11 579.55,38.15 580.93,35.58 582.3,38.43 583.68,34.68 585.05,32.27 586.43,35.04 587.81,34.95 589.18,35.55 590.56,36.1 591.93,35.91 593.31,34.33 594.68,33.03 596.06,40.33 597.44,40.25 598.81,33.21 600.19,32.83 601.56,49.91 602.94,35.2 604.31,34.26 605.69,33.78 607.07,34.76 608.44,34.93 609.82,35.86 611.19,33.58 612.57,35.19 613.94,35.38 615.32,35.82 616.7,35.91 618.07,33.42 619.45,34.38 620.82,34.95 622.2,35.13 623.57,33.26 624.95,34.27 626.33,36.79 627.7,39.15 629.08,35.42 630.45,35.52 631.83,31.99 633.2,33.21 634.58,33.73 635.96,31.99 637.33,36.5 638.71,34.52 640.08,47.46 641.46,34.53 642.84,35.82 644.21,34.56 645.59,35.16 646.96,32.46 648.34,38.35 649.71,34.23 651.09,31.99 652.47,37.02 653.84,35.94 655.22,34.51 656.59,43.78 657.97,34.05 659.34,36.43 660.72,34.94 662.1,33.86 663.47,38.43 664.85,34.71 666.22,33.65 667.6,36.7 668.97,37.11 670.35,33.71" fill="none" stroke="#ff00ff" stroke-width="1.05" stroke-linejoin="round"/></g><line x1="517.64" y1="19.2" x2="517.64" y2="30.49" stroke="#0000ff" stroke-width="1.3"/><polygon points="515.24,29.39 520.04,29.39 517.64,33.99" fill="#0000ff"/><circle cx="517.64" cy="36.29" r="1.85" fill="#0000ff" stroke="#222" stroke-width="0.7"/><text x="517.94" y="16" text-anchor="end" font-size="9.1">99.22%</text><line x1="604.31" y1="26.2" x2="604.31" y2="37.55" stroke="#800080" stroke-width="1.3"/><polygon points="601.91,36.45 606.71,36.45 604.31,41.05" fill="#800080"/><circle cx="604.31" cy="43.35" r="1.85" fill="#800080" stroke="#222" stroke-width="0.7"/><text x="604.61" y="23" text-anchor="end" font-size="9.1">98.07%</text><line x1="635.96" y1="15.2" x2="635.96" y2="26.19" stroke="#ff00ff" stroke-width="1.3"/><polygon points="633.56,25.09 638.36,25.09 635.96,29.69" fill="#ff00ff"/><circle cx="635.96" cy="31.99" r="1.85" fill="#ff00ff" stroke="#222" stroke-width="0.7"/><text x="636.26" y="12" text-anchor="end" font-size="9.1">99.92%</text><line x1="662.1" y1="64.5" x2="662.1" y2="40.98" stroke="#ff0000" stroke-width="1.3"/><polygon points="659.7,42.08 664.5,42.08 662.1,37.48" fill="#ff0000"/><circle cx="662.1" cy="35.18" r="1.85" fill="#ff0000" stroke="#222" stroke-width="0.7"/><text x="662.4" y="73" text-anchor="end" font-size="9.1">99.40%</text><line x1="670.35" y1="77.5" x2="670.35" y2="54.18" stroke="#ffa500" stroke-width="1.3"/><polygon points="667.95,55.28 672.75,55.28 670.35,50.68" fill="#ffa500"/><circle cx="670.35" cy="48.38" r="1.85" fill="#ffa500" stroke="#222" stroke-width="0.7"/><text x="670.65" y="86" text-anchor="end" font-size="9.1">97.25%</text><line x1="645.59" y1="106.5" x2="645.59" y2="96.65" stroke="#008000" stroke-width="1.3"/><polygon points="643.19,97.75 647.99,97.75 645.59,93.15" fill="#008000"/><circle cx="645.59" cy="90.85" r="1.85" fill="#008000" stroke="#222" stroke-width="0.7"/><text x="645.89" y="115" text-anchor="end" font-size="9.1">90.33%</text><line x1="382.5" y1="0.5" x2="683.9" y2="0.5" stroke="#c6c6c6" stroke-width="1"/><line x1="382.5" y1="1.5" x2="683.9" y2="1.5" stroke="#8a8a8a" stroke-width="1"/><line x1="382.5" y1="1" x2="382.5" y2="399.8" stroke="#727272" stroke-width="1.2"/><line x1="383.6" y1="1" x2="383.6" y2="399.8" stroke="#e6e6e6" stroke-width="1"/><line x1="683.5" y1="1" x2="683.5" y2="399.8" stroke="#b4b4b4" stroke-width="1"/><line x1="684.5" y1="1" x2="684.5" y2="399.8" stroke="#8e8e8e" stroke-width="1"/><line x1="381.9" y1="399.8" x2="683.9" y2="399.8" stroke="#999" stroke-width="1.8"/><line x1="379" y1="399.78" x2="382.5" y2="399.78" stroke="#444" stroke-width="1.0"/><text x="376.2" y="403.23" text-anchor="end" font-size="9.0">40</text><line x1="379" y1="338.4" x2="382.5" y2="338.4" stroke="#444" stroke-width="1.0"/><text x="376.2" y="341.85" text-anchor="end" font-size="9.0">50</text><line x1="379" y1="277.02" x2="382.5" y2="277.02" stroke="#444" stroke-width="1.0"/><text x="376.2" y="280.47" text-anchor="end" font-size="9.0">60</text><line x1="379" y1="215.64" x2="382.5" y2="215.64" stroke="#444" stroke-width="1.0"/><text x="376.2" y="219.09" text-anchor="end" font-size="9.0">70</text><line x1="379" y1="154.26" x2="382.5" y2="154.26" stroke="#444" stroke-width="1.0"/><text x="376.2" y="157.71" text-anchor="end" font-size="9.0">80</text><line x1="379" y1="92.88" x2="382.5" y2="92.88" stroke="#444" stroke-width="1.0"/><text x="376.2" y="96.33" text-anchor="end" font-size="9.0">90</text><line x1="379" y1="31.5" x2="382.5" y2="31.5" stroke="#444" stroke-width="1.0"/><text x="376.2" y="34.95" text-anchor="end" font-size="9.0">100</text><line x1="395.2" y1="399.8" x2="395.2" y2="403.2" stroke="#555" stroke-width="1.0"/><text x="395.2" y="413.4" text-anchor="middle" font-size="9.2">0</text><line x1="429.59" y1="399.8" x2="429.59" y2="403.2" stroke="#555" stroke-width="1.0"/><text x="429.59" y="413.4" text-anchor="middle" font-size="9.2">25</text><line x1="463.99" y1="399.8" x2="463.99" y2="403.2" stroke="#555" stroke-width="1.0"/><text x="463.99" y="413.4" text-anchor="middle" font-size="9.2">50</text><line x1="498.38" y1="399.8" x2="498.38" y2="403.2" stroke="#555" stroke-width="1.0"/><text x="498.38" y="413.4" text-anchor="middle" font-size="9.2">75</text><line x1="532.77" y1="399.8" x2="532.77" y2="403.2" stroke="#555" stroke-width="1.0"/><text x="532.77" y="413.4" text-anchor="middle" font-size="9.2">100</text><line x1="567.17" y1="399.8" x2="567.17" y2="403.2" stroke="#555" stroke-width="1.0"/><text x="567.17" y="413.4" text-anchor="middle" font-size="9.2">125</text><line x1="601.56" y1="399.8" x2="601.56" y2="403.2" stroke="#555" stroke-width="1.0"/><text x="601.56" y="413.4" text-anchor="middle" font-size="9.2">150</text><line x1="635.96" y1="399.8" x2="635.96" y2="403.2" stroke="#555" stroke-width="1.0"/><text x="635.96" y="413.4" text-anchor="middle" font-size="9.2">175</text><line x1="670.35" y1="399.8" x2="670.35" y2="403.2" stroke="#555" stroke-width="1.0"/><text x="670.35" y="413.4" text-anchor="middle" font-size="9.2">200</text><text x="533.2" y="424.6" text-anchor="middle" font-size="7.4">epoch</text><text transform="translate(354.4,202.05) rotate(-90)" text-anchor="middle" font-size="7.3">accuracy/%</text><text x="533.2" y="451.2" text-anchor="middle" font-size="15.6" font-family="'Liberation Serif', 'DejaVu Serif', serif">(b)</text><rect x="571.9" y="313.8" width="107.5" height="81.4" rx="2" ry="2" fill="#fff" fill-opacity="0.8" stroke="#d0d0d0" stroke-width="0.8"/><line x1="575.0" y1="320.7" x2="593.6" y2="320.7" stroke="#0000ff" stroke-width="1.4" stroke-opacity="0.68"/><text x="600.9" y="323.9" font-size="8.9">Deit3</text><line x1="575.0" y1="334" x2="593.6" y2="334" stroke="#ff0000" stroke-width="1.4" stroke-opacity="0.68"/><text x="600.9" y="337.2" font-size="8.9">EfficientFormer</text><line x1="575.0" y1="347.2" x2="593.6" y2="347.2" stroke="#008000" stroke-width="1.4" stroke-opacity="0.68"/><text x="600.9" y="350.4" font-size="8.9">MobileVit</text><line x1="575.0" y1="360.4" x2="593.6" y2="360.4" stroke="#800080" stroke-width="1.4" stroke-opacity="0.68"/><text x="600.9" y="363.6" font-size="8.9">SwinTransformer</text><line x1="575.0" y1="373.5" x2="593.6" y2="373.5" stroke="#ffa500" stroke-width="1.4" stroke-opacity="0.68"/><text x="600.9" y="376.7" font-size="8.9">TinyVit</text><line x1="575.0" y1="386.6" x2="593.6" y2="386.6" stroke="#ff00ff" stroke-width="1.4" stroke-opacity="0.68"/><text x="600.9" y="389.8" font-size="8.9">DLVTNet</text></svg>
</body></html>
